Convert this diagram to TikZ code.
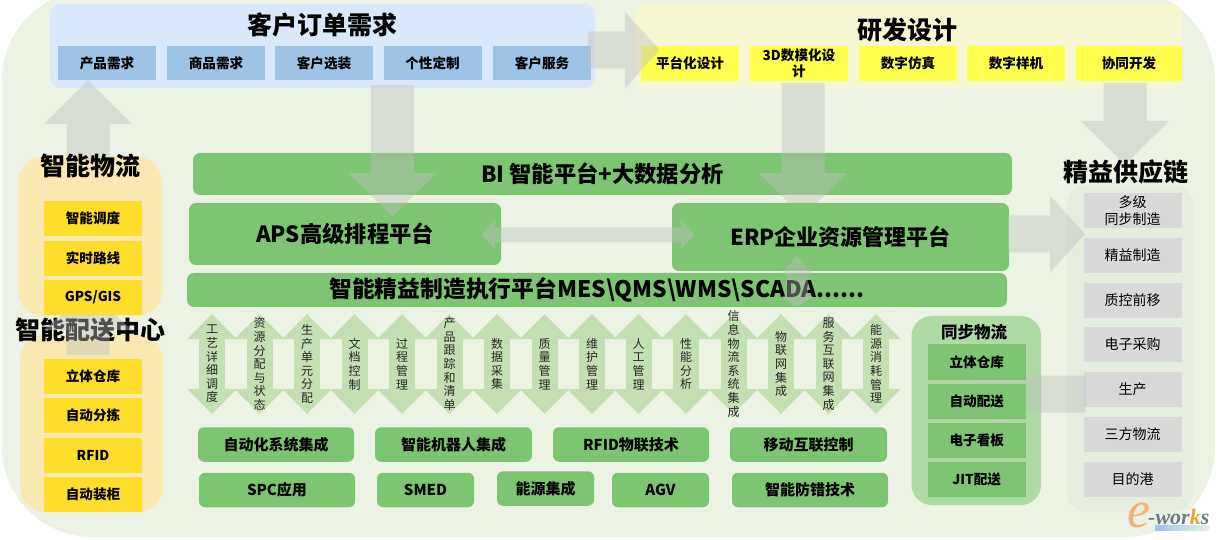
\documentclass[tikz,border=0pt]{standalone}
\usepackage{fontspec}
\setmainfont{Noto Sans CJK SC}
\newfontfamily\logofont{Liberation Serif}
\usepackage{tikz}
\usetikzlibrary{arrows.meta}
\definecolor{bggreen}{HTML}{ECF3E4}
\definecolor{platgreen}{HTML}{7DC473}
\definecolor{syncgreen}{HTML}{AEDBA3}
\definecolor{flowgreen}{HTML}{C5DFB5}
\definecolor{orderblue}{HTML}{DAE8FC}
\definecolor{subblue}{HTML}{9DC3E6}
\definecolor{rdpale}{HTML}{F6F6D2}
\definecolor{rdyellow}{HTML}{FFFF4D}
\definecolor{logipale}{HTML}{F9E9B0}
\definecolor{logiyellow}{HTML}{FFDD2B}
\definecolor{supplypale}{HTML}{E5EDDE}
\definecolor{supplygray}{HTML}{D9D9D9}
\definecolor{arrowgray}{HTML}{C1C1C1}
\definecolor{logoorange}{HTML}{F2B27A}
\definecolor{logok}{HTML}{E8A030}
\definecolor{logogray}{HTML}{6E7A85}
\tikzstyle{title} = [inner sep=0pt,font=\fontsize{25}{27}\selectfont\bfseries]
\tikzstyle{subbox} = [inner sep=0pt,minimum width=98pt,minimum height=34.5pt,align=center,font=\fontsize{13.6}{16}\selectfont\bfseries]
\tikzstyle{platform} = [fill=platgreen,rounded corners=7pt,inner sep=0pt,font=\fontsize{22.3}{24}\selectfont\bfseries]
\tikzstyle{techbox} = [fill=platgreen,rounded corners=6pt,inner sep=0pt,minimum height=34.5pt,font=\fontsize{15}{17}\selectfont\bfseries]
\tikzstyle{flowarrow} = [draw=flowgreen,line width=26pt,{Triangle[length=25pt,width=48pt]}-{Triangle[length=25pt,width=48pt]}]
\tikzstyle{flowtext} = [inner sep=0pt,align=center,text=black!85,font=\fontsize{12}{13.6}\selectfont]
\tikzstyle{bigarrow} = [draw=arrowgray,line width=43pt,-{Triangle[length=44pt,width=86pt]}]
\tikzstyle{midarrow} = [draw=arrowgray,line width=37pt,-{Triangle[length=35pt,width=75pt]}]
\begin{document}
\begin{tikzpicture}[x=1pt,y=-1pt]
\useasboundingbox (0,0) rectangle (1219,540);
\def\flowcol#1#2#3{
  \coordinate (flowtop#1) at (#2,314);
  \coordinate (flowbot#1) at (#2,414);
  \draw[flowarrow] (flowtop#1) -- (flowbot#1);
  \node[flowtext] (flowlabel#1) at (#2,364) {#3};
}
\fill[bggreen,rounded corners=90pt] (2,-10) rectangle (1215,537);
% containers
\node[fill=orderblue,rounded corners=10pt,minimum width=545pt,minimum height=84pt,inner sep=0pt] (order) at (322.5,46) {};
\node[fill=rdpale,rounded corners=10pt,minimum width=547pt,minimum height=84pt,inner sep=0pt] (rd) at (908.5,46) {};
\node[fill=logipale,rounded corners=25pt,minimum width=144pt,minimum height=159pt,inner sep=0pt] (wuliu) at (90,236.5) {};
\node[fill=logipale,rounded corners=25pt,minimum width=143pt,minimum height=177pt,inner sep=0pt] (peisong) at (91.5,423.5) {};
\node[fill=supplypale,rounded corners=20pt,minimum width=126pt,minimum height=327pt,inner sep=0pt] (supply) at (1130,348.5) {};
\node[fill=syncgreen,rounded corners=20pt,minimum width=129.5pt,minimum height=189pt,inner sep=0pt] (sync) at (976.25,410.5) {};
\node[title] (ordertitle) at (322,25) {客户订单需求};
\node[title] (rdtitle) at (907,30) {研发设计};
\node[title] (peisongtitle) at (91,330) {智能配送中心};
% customer order
\node[subbox,fill=subblue] (order1) at (107,63) {产品需求};
\node[subbox,fill=subblue] (order2) at (216,63) {商品需求};
\node[subbox,fill=subblue] (order3) at (324,63) {客户选装};
\node[subbox,fill=subblue] (order4) at (432.5,63) {个性定制};
\node[subbox,fill=subblue] (order5) at (542,63) {客户服务};
% design
\node[subbox,fill=rdyellow] (rd1) at (690,63.5) {平台化设计};
\node[subbox,fill=rdyellow] (rd2) at (799,63.5) {3D数模化设\\计};
\node[subbox,fill=rdyellow] (rd3) at (908,63.5) {数字仿真};
\node[subbox,fill=rdyellow] (rd4) at (1016,63.5) {数字样机};
\node[subbox,fill=rdyellow,minimum width=106pt] (rd5) at (1129,63.5) {协同开发};
% supply chain
\node[subbox,fill=supplygray,font=\fontsize{14}{17}\selectfont] (chain1) at (1132.5,210.5) {多级\\同步制造};
\node[subbox,fill=supplygray,font=\fontsize{14}{17}\selectfont] (chain2) at (1132.5,255.5) {精益制造};
\node[subbox,fill=supplygray,font=\fontsize{14}{17}\selectfont] (chain3) at (1132.5,300.5) {质控前移};
\node[subbox,fill=supplygray,font=\fontsize{14}{17}\selectfont] (chain4) at (1132.5,344.5) {电子采购};
\node[subbox,fill=supplygray,font=\fontsize{14}{17}\selectfont] (chain5) at (1132.5,389.5) {生产};
\node[subbox,fill=supplygray,font=\fontsize{14}{17}\selectfont] (chain6) at (1132.5,434.5) {三方物流};
\node[subbox,fill=supplygray,font=\fontsize{14}{17}\selectfont] (chain7) at (1132.5,479.5) {目的港};
% platforms
\node[platform,minimum width=819pt,minimum height=42pt] (bi) at (602.5,174) {BI 智能平台+大数据分析};
\node[platform,minimum width=312pt,minimum height=62pt] (aps) at (345,234) {APS高级排程平台};
\node[platform,minimum width=820pt,minimum height=34pt,font=\fontsize{22.8}{24}\selectfont\bfseries] (mes) at (597,290) {智能精益制造执行平台MES\textbackslash QMS\textbackslash WMS\textbackslash SCADA......};
% arrows under the boxes
\coordinate (erptip) at (803,217);
\coordinate (pstip) at (88,290);
\coordinate (synctip) at (960,394);
\begin{scope}[transparency group,opacity=0.42]
\draw[bigarrow] ([xshift=-2pt,yshift=-3pt]wuliu.north) -- ([xshift=-234.5pt,yshift=8pt]order.south);
\draw[bigarrow,-{Triangle[length=40pt,width=86pt]}] (88,355) -- (pstip);
\draw[midarrow] ([xshift=-7pt,yshift=-4pt]order.east) -- ([xshift=25pt,yshift=-4pt]rd.west);
\draw[bigarrow] ([xshift=70pt,yshift=3pt]order.south) -- ([yshift=-14pt,xshift=47.5pt]aps.north);
\draw[bigarrow] ([xshift=4pt,yshift=-2pt]rd2.south) -- (erptip);
\draw[bigarrow] ([xshift=-4pt,yshift=-2pt]rd5.south) -- ([xshift=-5pt,yshift=20pt]supply.north);
\draw[midarrow,-{Triangle[length=45pt,width=75pt]}] ([xshift=2pt,yshift=-4.5pt]chain5.west) -- (synctip);
\end{scope}
\node[platform,minimum width=337pt,minimum height=68pt,font=\fontsize{22}{24}\selectfont\bfseries] (erp) at (840.5,237) {ERP企业资源管理平台};
\node[title] (wuliutitle) at (90,166) {智能物流};
\node[title] (supplytitle) at (1126,172) {精益供应链};
% logistics
\node[subbox,fill=logiyellow] (wuliu1) at (93,218.5) {智能调度};
\node[subbox,fill=logiyellow] (wuliu2) at (93,258.5) {实时路线};
\node[subbox,fill=logiyellow] (wuliu3) at (93,297.5) {GPS/GIS};
\node[subbox,fill=logiyellow] (peisong1) at (93,376.5) {立体仓库};
\node[subbox,fill=logiyellow] (peisong2) at (93,415.5) {自动分拣};
\node[subbox,fill=logiyellow] (peisong3) at (93,455.5) {RFID};
\node[subbox,fill=logiyellow] (peisong4) at (93,494.5) {自动装柜};
% sync logistics
\node[inner sep=0pt,font=\fontsize{16.5}{18}\selectfont\bfseries] (synctitle) at (974,332) {同步物流};
\node[subbox,fill=platgreen,minimum height=35.5pt] (sync1) at (976.75,362) {立体仓库};
\node[subbox,fill=platgreen,minimum height=35.5pt] (sync2) at (976.75,401.5) {自动配送};
\node[subbox,fill=platgreen,minimum height=35.5pt] (sync3) at (976.75,440.5) {电子看板};
\node[subbox,fill=platgreen,minimum height=35.5pt] (sync4) at (976.75,479.5) {JIT配送};
% arrows over the boxes
\coordinate (mesup) at (797,256);
\coordinate (mesdown) at (797,308);
\coordinate (supplyin) at (1085,234);
\begin{scope}[transparency group,opacity=0.42]
\draw[draw=arrowgray,line width=15pt,{Triangle[length=14pt,width=29pt]}-{Triangle[length=14pt,width=29pt]}] ([xshift=-20pt,yshift=-1pt]aps.east) -- ([xshift=23pt,yshift=2pt]erp.west);
\draw[draw=arrowgray,line width=22pt,{Triangle[length=18pt,width=31pt]}-{Triangle[length=12pt,width=31pt]}] (mesup) -- (mesdown);
\draw[midarrow] ([xshift=-1pt,yshift=3pt]erp.east) -- (supplyin);
\end{scope}
% functions
\flowcol{1}{212}{工\\艺\\详\\细\\调\\度}
\flowcol{2}{259.5}{资\\源\\分\\配\\与\\状\\态}
\flowcol{3}{307}{生\\产\\单\\元\\分\\配}
\flowcol{4}{354.5}{文\\档\\控\\制}
\flowcol{5}{402}{过\\程\\管\\理}
\flowcol{6}{449.5}{产\\品\\跟\\踪\\和\\清\\单}
\flowcol{7}{497}{数\\据\\采\\集}
\flowcol{8}{544.5}{质\\量\\管\\理}
\flowcol{9}{592}{维\\护\\管\\理}
\flowcol{10}{638.5}{人\\工\\管\\理}
\flowcol{11}{686}{性\\能\\分\\析}
\flowcol{12}{733.5}{信\\息\\物\\流\\系\\统\\集\\成}
\flowcol{13}{781}{物\\联\\网\\集\\成}
\flowcol{14}{828.5}{服\\务\\互\\联\\网\\集\\成}
\flowcol{15}{876}{能\\源\\消\\耗\\管\\理}
% technologies
\node[techbox,minimum width=156pt] (tech1) at (276,444.5) {自动化系统集成};
\node[techbox,minimum width=157pt] (tech2) at (453.5,444.5) {智能机器人集成};
\node[techbox,minimum width=156pt] (tech3) at (631,444.5) {RFID物联技术};
\node[techbox,minimum width=157pt] (tech4) at (808.5,444.5) {移动互联控制};
\node[techbox,minimum width=156pt] (tech5) at (277,490) {SPC应用};
\node[techbox,minimum width=97pt] (tech6) at (425.5,490) {SMED};
\node[techbox,minimum width=97pt] (tech7) at (545.5,488.5) {能源集成};
\node[techbox,minimum width=97pt] (tech8) at (660.5,490) {AGV};
\node[techbox,minimum width=156pt] (tech9) at (810,490) {智能防错技术};
% logo
\node[left color=subblue,right color=bggreen,inner sep=0pt,minimum width=55pt,minimum height=5pt] (logobar) at (1182.5,527.5) {};
\node[inner sep=0pt,text=logoorange,font=\logofont\fontsize{52}{54}\selectfont\itshape] (logoe) at (1139,515.5) {e};
\node[inner sep=0pt,anchor=west,text=logogray,font=\logofont\fontsize{22}{24}\selectfont\bfseries\itshape] (logoworks) at (1148,517) {-wor{\color{logok}k}s};
\end{tikzpicture}
\end{document}
